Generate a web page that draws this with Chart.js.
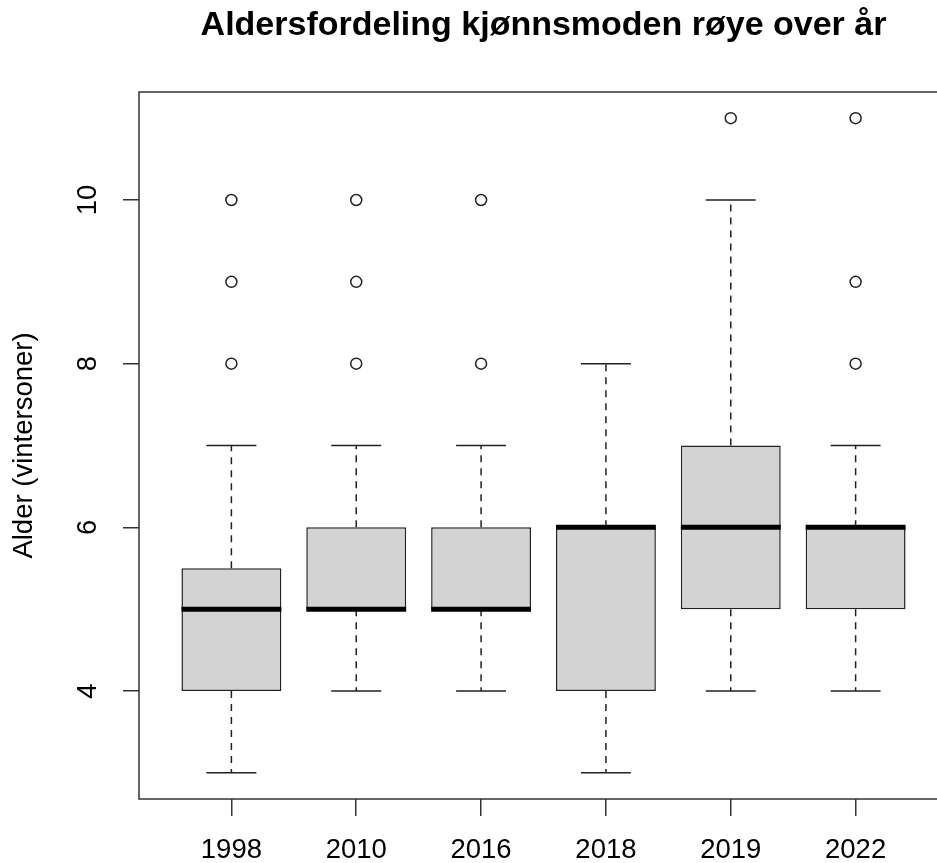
<!DOCTYPE html>
<html>
<head>
<meta charset="utf-8">
<title>Aldersfordeling kjønnsmoden røye over år</title>
<script src="https://cdn.jsdelivr.net/npm/chart.js@4/dist/chart.umd.min.js"></script>
<style>
  html, body { margin: 0; padding: 0; background: #fff; overflow: hidden; }
  #boxChart { position: absolute; left: 0; top: 0; background: #fff; }
</style>
</head>
<body>
<canvas id="boxChart" width="960" height="863"></canvas>
<script>
  // box plot stats per year
  var years = ['1998', '2010', '2016', '2018', '2019', '2022'];
  var lowerWhisker = [3, 4, 4, 3, 4, 4];
  var lowerQuartile = [4, 5, 5, 4, 5, 5];
  var medians = [5, 5, 5, 6, 6, 6];
  var upperQuartile = [5.5, 6, 6, 6, 7, 6];
  var upperWhisker = [7, 7, 7, 8, 10, 7];
  var outliers = [[8, 9, 10], [8, 9, 10], [8, 10], [], [11], [8, 9, 11]];
  var yTicks = [4, 6, 8, 10];

  var ink = '#222';

  var boxData = years.map(function (_, i) {
    return { x: i + 1, y: [lowerQuartile[i], upperQuartile[i]] };
  });
  var outlierData = [];
  outliers.forEach(function (list, i) {
    list.forEach(function (v) { outlierData.push({ x: i + 1, y: v }); });
  });

  // whiskers, caps, medians and the plot frame, all placed with the chart scales
  var boxParts = {
    id: 'boxParts',
    afterDatasetsDraw: function (chart) {
      var ctx = chart.ctx;
      var yScale = chart.scales.y;
      var bars = chart.getDatasetMeta(0).data;
      ctx.save();
      bars.forEach(function (bar, i) {
        var half = bar.width / 2;
        var yLo = yScale.getPixelForValue(lowerWhisker[i]);
        var yQ1 = yScale.getPixelForValue(lowerQuartile[i]);
        var yQ3 = yScale.getPixelForValue(upperQuartile[i]);
        var yHi = yScale.getPixelForValue(upperWhisker[i]);
        var yMed = yScale.getPixelForValue(medians[i]);

        ctx.strokeStyle = ink;
        ctx.lineWidth = 1.5;
        ctx.setLineDash([7, 6]);
        ctx.beginPath();
        ctx.moveTo(bar.x, yQ3); ctx.lineTo(bar.x, yHi);
        ctx.moveTo(bar.x, yQ1); ctx.lineTo(bar.x, yLo);
        ctx.stroke();

        ctx.setLineDash([]);
        ctx.beginPath();
        ctx.moveTo(bar.x - half / 2, yHi); ctx.lineTo(bar.x + half / 2, yHi);
        ctx.moveTo(bar.x - half / 2, yLo); ctx.lineTo(bar.x + half / 2, yLo);
        ctx.stroke();

        ctx.strokeStyle = '#000';
        ctx.lineWidth = 5;
        ctx.lineCap = 'butt';
        ctx.beginPath();
        ctx.moveTo(bar.x - half, yMed); ctx.lineTo(bar.x + half, yMed);
        ctx.stroke();
      });
      var a = chart.chartArea;
      ctx.strokeStyle = '#333';
      ctx.lineWidth = 1.5;
      ctx.strokeRect(a.left, a.top, a.right - a.left, a.bottom - a.top);
      ctx.restore();
    }
  };

  Chart.defaults.font.family = "'Liberation Sans', Arial, sans-serif";
  Chart.defaults.color = '#000';

  new Chart(document.getElementById('boxChart'), {
    type: 'bar',
    data: {
      datasets: [{
        type: 'bar',
        data: boxData,
        backgroundColor: '#d3d3d3',
        borderColor: ink,
        borderWidth: 1.5,
        borderSkipped: false,
        barPercentage: 1,
        categoryPercentage: 0.8
      }, {
        type: 'line',
        data: outlierData,
        showLine: false,
        pointRadius: 5.5,
        pointBorderWidth: 1.5,
        pointBorderColor: ink,
        pointBackgroundColor: '#fff'
      }]
    },
    options: {
      responsive: false,
      animation: false,
      events: [],
      layout: { padding: { right: 12 } },
      plugins: {
        legend: { display: false },
        tooltip: { enabled: false },
        title: {
          display: true,
          text: 'Aldersfordeling kjønnsmoden røye over år',
          fullSize: false,
          color: '#000',
          font: { size: 34, weight: 'bold' },
          padding: { top: 5, bottom: 46.2 }
        }
      },
      scales: {
        x: {
          type: 'linear',
          offset: false,
          min: 0.26,
          max: 6.74,
          afterBuildTicks: function (s) {
            s.ticks = years.map(function (_, i) { return { value: i + 1 }; });
          },
          afterFit: function (s) { s.height = 64; },
          border: { display: false },
          grid: { offset: false, drawOnChartArea: false, tickLength: 17, color: '#333', lineWidth: 1.5 },
          ticks: {
            autoSkip: false,
            maxRotation: 0,
            padding: 18,
            font: { size: 27.5 },
            callback: function (v) { return years[Math.round(v) - 1]; }
          }
        },
        y: {
          type: 'linear',
          min: 2.68,
          max: 11.32,
          afterBuildTicks: function (s) {
            s.ticks = yTicks.map(function (v) { return { value: v }; });
          },
          afterFit: function (s) { s.width = 139; },
          border: { display: false },
          grid: { drawOnChartArea: false, tickLength: 16, color: '#333', lineWidth: 1.5 },
          ticks: {
            minRotation: 90,
            maxRotation: 90,
            crossAlign: 'center',
            padding: 19,
            font: { size: 27.5 }
          },
          title: {
            display: true,
            text: 'Alder (vintersoner)',
            font: { size: 27.5 },
            padding: { top: 7.5 }
          }
        }
      }
    },
    plugins: [boxParts]
  });
</script>
</body>
</html>
